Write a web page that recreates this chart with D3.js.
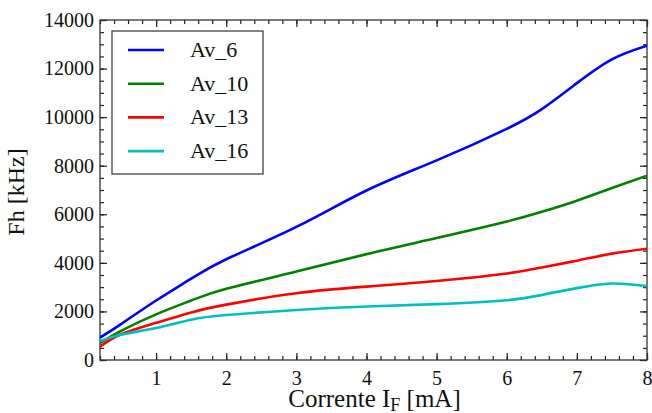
<!doctype html>
<html>
<head>
<script src="https://cdnjs.cloudflare.com/ajax/libs/d3/7.8.5/d3.min.js"></script>
</head>
<body style="margin:0">
<script>
// current I_F [mA]
var corrente = [0.2, 0.5, 1, 1.5, 2, 3, 4, 5, 6, 6.5, 7, 7.5, 8];
// Fh [kHz] per series
var av6  = [920, 1480, 2450, 3350, 4150, 5480, 6980, 8220, 9520, 10330, 11400, 12380, 12940];
var av10 = [700, 1200, 1880, 2450, 2930, 3640, 4360, 5020, 5700, 6100, 6560, 7080, 7590];
var av13 = [550, 1060, 1530, 1960, 2280, 2750, 3020, 3250, 3560, 3810, 4090, 4380, 4580];
var av16 = [780, 1040, 1320, 1660, 1850, 2060, 2200, 2300, 2460, 2680, 2960, 3150, 3040];
var seriesNames = ["Av_6", "Av_10", "Av_13", "Av_16"];
var colors = ["#0000ff", "#008000", "#ff0000", "#00bfbf"];
var xTicks = [1, 2, 3, 4, 5, 6, 7, 8];
var yTicks = [0, 2000, 4000, 6000, 8000, 10000, 12000, 14000];

var FONT = "'Liberation Serif'";
var W = 652, H = 413;
var margin = { top: 20, right: 5, bottom: 53, left: 100 };
var width = W - margin.left - margin.right,
    height = H - margin.top - margin.bottom;

var svg = d3.select("body").append("svg")
    .attr("width", W).attr("height", H);
var g = svg.append("g")
    .attr("transform", "translate(" + margin.left + "," + margin.top + ")");

var x = d3.scaleLinear().domain([0.2, 8]).range([0, width]);
var y = d3.scaleLinear().domain([0, 14000]).range([height, 0]);

var xMinor = d3.range(0.2, 8.001, 0.2).map(function (v) { return +v.toFixed(1); });
var yMinor = d3.range(0, 14001, 500);

// minor ticks, all four sides
g.append("g").attr("transform", "translate(0," + height + ")")
    .call(d3.axisBottom(x).tickValues(xMinor).tickSize(-4).tickFormat(""));
g.append("g")
    .call(d3.axisTop(x).tickValues(xMinor).tickSize(-4).tickFormat(""));
g.append("g")
    .call(d3.axisLeft(y).tickValues(yMinor).tickSize(-4).tickFormat(""));
g.append("g").attr("transform", "translate(" + width + ",0)")
    .call(d3.axisRight(y).tickValues(yMinor).tickSize(-4).tickFormat(""));

// major ticks
var xAxis = g.append("g").attr("transform", "translate(0," + height + ")")
    .call(d3.axisBottom(x).tickValues(xTicks).tickSize(-7).tickPadding(11).tickFormat(d3.format("d")));
g.append("g")
    .call(d3.axisTop(x).tickValues(xTicks).tickSize(-7).tickFormat(""));
var yAxis = g.append("g")
    .call(d3.axisLeft(y).tickValues(yTicks).tickSize(-7).tickPadding(6).tickFormat(d3.format("d")));
g.append("g").attr("transform", "translate(" + width + ",0)")
    .call(d3.axisRight(y).tickValues(yTicks).tickSize(-7).tickFormat(""));

g.selectAll(".domain").remove();
g.selectAll(".tick line").attr("stroke", "#222").attr("stroke-width", 1.2);
xAxis.selectAll(".tick text").attr("fill", "#111")
    .style("font-family", FONT).style("font-size", "20px");
yAxis.selectAll(".tick text").attr("fill", "#111")
    .style("font-family", FONT).style("font-size", "20px");

g.append("rect").attr("width", width).attr("height", height)
    .attr("fill", "none").attr("stroke", "#333").attr("stroke-width", 1.3);

// lines
var allSeries = [av6, av10, av13, av16];
var line = d3.line()
    .x(function (d) { return x(d[0]); })
    .y(function (d) { return y(d[1]); })
    .curve(d3.curveNatural);

g.append("defs").append("clipPath").attr("id", "clip")
    .append("rect").attr("width", width).attr("height", height);

allSeries.forEach(function (s, i) {
    g.append("path")
        .datum(corrente.map(function (c, j) { return [c, s[j]]; }))
        .attr("clip-path", "url(#clip)")
        .attr("fill", "none")
        .attr("stroke", colors[i])
        .attr("stroke-width", 2.6)
        .attr("d", line);
});

// legend
var leg = svg.append("g").attr("transform", "translate(112,31)");
leg.append("rect").attr("width", 151).attr("height", 143)
    .attr("fill", "#fff").attr("stroke", "#333").attr("stroke-width", 1.2);
seriesNames.forEach(function (n, i) {
    var yy = 19 + i * 33.7;
    leg.append("line").attr("x1", 16).attr("x2", 52).attr("y1", yy).attr("y2", yy)
        .attr("stroke", colors[i]).attr("stroke-width", 2.6);
    leg.append("text").attr("x", 78).attr("y", yy + 7).attr("fill", "#111")
        .style("font-family", FONT).style("font-size", "22px").text(n);
});

// axis labels
var xl = svg.append("text")
    .attr("x", margin.left + width / 2 + 1)
    .attr("y", 407)
    .attr("text-anchor", "middle").attr("fill", "#111")
    .style("font-family", FONT).style("font-size", "25px");
xl.append("tspan").text("Corrente I");
xl.append("tspan").attr("dy", 4).style("font-size", "18px").text("F");
xl.append("tspan").attr("dy", -4).text(" [mA]");

svg.append("text")
    .attr("transform", "translate(24," + (margin.top + height / 2 + 2) + ") rotate(-90)")
    .attr("text-anchor", "middle").attr("fill", "#111")
    .style("font-family", FONT).style("font-size", "24px")
    .text("Fh [kHz]");
</script>
</body>
</html>
